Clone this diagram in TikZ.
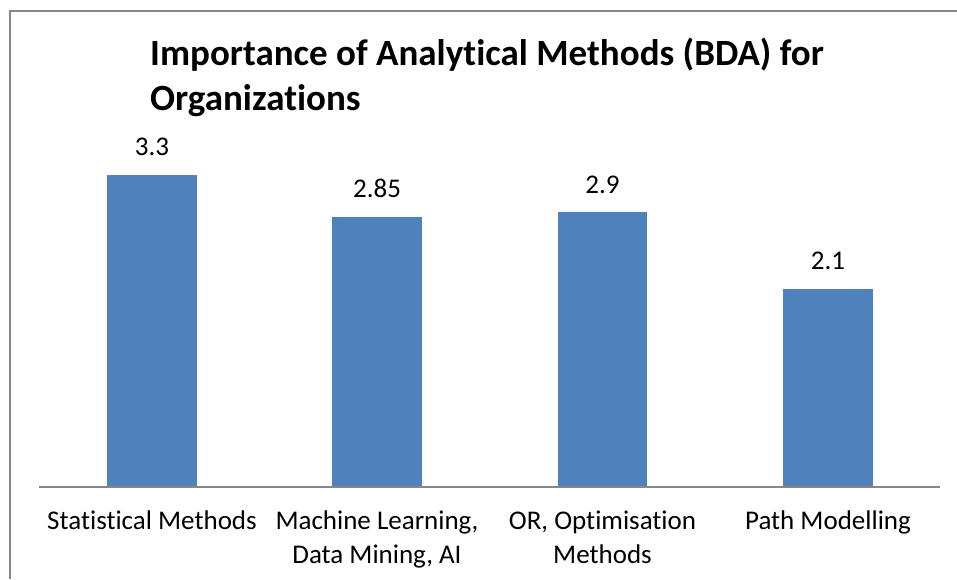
\documentclass[tikz,border=0pt]{standalone}
\usepackage{fontspec}
\setmainfont{Carlito}[Ligatures=NoCommon]
\definecolor{barblue}{HTML}{4F81BD}
\definecolor{framegray}{HTML}{878787}
\begin{document}
\begin{tikzpicture}[x=1pt,y=-1pt,
  bar/.style={fill=barblue,draw=none},
  vallabel/.style={font=\fontsize{27}{32}\selectfont,inner sep=0pt,anchor=base},
  catlabel/.style={font=\fontsize{27}{34}\selectfont,inner sep=0pt,align=center,anchor=north},
  titlefont/.style={font=\fontsize{37}{45}\selectfont\bfseries,inner sep=0pt,anchor=base west}]
\useasboundingbox (0,0) rectangle (957,579);
\fill[white] (0,0) rectangle (957,579);
% frame
\draw[framegray,line width=1.2pt] (10,579) -- (10,11) -- (957,11);
% title
\node[titlefont] (t1) at (150,65) {Importance of Analytical Methods (BDA) for};
\node[titlefont] (t2) at (150,110) {Organizations};
% bars
\fill[bar] (107,487) rectangle (197,175);
\fill[bar] (332,487) rectangle (422,217);
\fill[bar] (558,487) rectangle (647,212);
\fill[bar] (783,487) rectangle (873,289);
% axis
\draw[framegray,line width=1.2pt] (39,487) coordinate (ax1) -- (940,487) coordinate (ax2);
% values
\node[vallabel] (v1) at (152,155) {3.3};
\node[vallabel] (v2) at (377,197) {2.85};
\node[vallabel] (v3) at (602.5,193) {2.9};
\node[vallabel] (v4) at (828,269) {2.1};
% categories
\node[catlabel] (c1) at (152,511) {Statistical Methods};
\node[catlabel] (c2) at (377,511) {Machine Learning,\\Data Mining, AI};
\node[catlabel] (c3) at (602.5,511) {OR, Optimisation\\Methods};
\node[catlabel] (c4) at (828,511) {Path Modelling};
\end{tikzpicture}
\end{document}
